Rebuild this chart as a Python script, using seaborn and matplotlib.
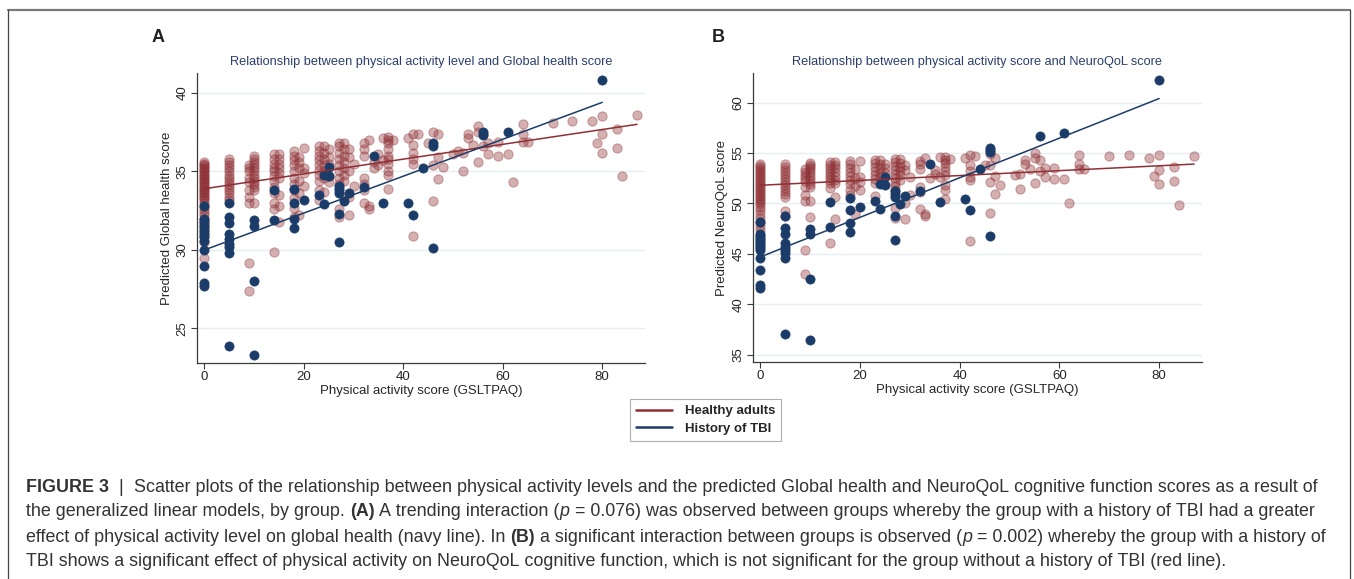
import numpy as np
import pandas as pd
import matplotlib
matplotlib.use('Agg')
import matplotlib.pyplot as plt
import matplotlib.transforms as mtrans
from matplotlib.lines import Line2D
import seaborn as sns

# ── Data ───────────────────────────────────────────────────────────────────────
# Panel A: Global health. {physical activity score: [predicted scores]}
a_healthy = {
    0: [35.6, 35.5, 35.4, 35.3, 35.2, 35.1, 35.0, 34.9, 34.8, 34.7, 34.6, 34.5, 34.4,
        34.3, 34.2, 34.1, 34.0, 33.9, 33.8, 33.7, 33.6, 33.5, 33.4, 33.3, 33.2, 33.0,
        32.8, 32.6, 32.4, 32.2, 32.0, 31.8, 31.5, 31.2, 30.9, 30.5, 29.5],
    5: [35.8, 35.6, 35.4, 35.2, 35.0, 34.8, 34.6, 34.4, 34.2, 34.0, 33.8, 33.6, 33.4, 33.2],
    9: [35.4, 35.2, 35.0, 34.6, 34.3, 33.8, 33.4, 33.0, 29.2, 27.4],
    10: [36.0, 35.8, 35.6, 35.4, 35.2, 35.0, 34.8, 34.6, 34.4, 34.2, 34.0, 33.8, 33.0],
    14: [36.1, 35.8, 35.5, 35.2, 35.0, 34.7, 34.4, 34.0, 33.6, 33.0, 32.6, 29.9],
    15: [36.1, 35.8, 35.5, 35.2, 34.9, 34.6, 33.5, 32.8, 31.8],
    18: [36.3, 36.0, 35.7, 35.4, 35.0, 34.6, 34.2, 33.8, 33.3, 32.7, 32.1],
    19: [35.9, 35.6, 35.2, 34.4, 33.6, 32.2],
    20: [36.5, 35.2, 34.9, 34.1],
    23: [36.6, 36.3, 36.0, 35.7, 35.4, 35.1, 34.8, 34.4, 33.8, 33.2],
    24: [36.6, 36.2, 35.8, 35.4, 35.0, 34.6, 33.7],
    25: [36.4, 35.9, 35.5, 34.7, 34.3],
    27: [36.8, 36.6, 36.2, 35.8, 35.4, 35.0, 34.6, 34.2, 33.8, 32.6, 32.1],
    28: [36.8, 36.4, 36.0, 35.6, 35.2, 34.8, 34.4, 33.4],
    29: [36.4, 35.9, 35.0, 33.4, 32.2],
    30: [35.5, 34.1],
    32: [36.8, 36.4, 36.0, 34.6, 34.2, 33.8, 33.0],
    33: [37.0, 32.8, 32.6],
    34: [35.6, 35.2],
    35: [36.1, 35.4],
    36: [37.1, 35.7],
    37: [37.2, 37.0, 36.8, 36.4, 36.0, 35.8, 35.5, 35.0, 34.8, 33.9],
    38: [37.0], 41: [37.1],
    42: [37.4, 36.7, 36.2, 35.8, 35.5, 30.9],
    43: [37.4], 45: [36.8],
    46: [37.5, 35.4, 33.1],
    47: [37.4, 35.9, 34.5],
    48: [35.3], 50: [36.1], 51: [36.3],
    52: [36.2, 35.0],
    53: [37.4, 37.1], 54: [36.7],
    55: [37.9, 37.5, 35.6],
    56: [37.4, 36.6],
    57: [36.8, 36.1],
    59: [36.9, 36.0],
    61: [36.1], 62: [34.3],
    64: [38.0, 37.4, 36.9],
    65: [36.9], 70: [38.1], 74: [38.2], 78: [38.2], 79: [36.8],
    80: [38.5, 37.4, 36.2],
    83: [37.7, 36.5], 84: [34.7], 87: [38.6],
}
a_tbi = {
    0: [32.8, 32.0, 31.8, 31.6, 31.4, 31.2, 31.0, 30.8, 30.6, 30.0, 29.0, 27.9, 27.7],
    5: [33.0, 32.1, 31.7, 31.0, 30.7, 30.4, 30.2, 29.8, 23.9],
    10: [31.9, 31.5, 28.0, 23.3],
    14: [33.8, 31.9],
    18: [33.9, 33.0, 32.0, 31.4],
    20: [33.2], 23: [33.5],
    24: [34.8, 32.9],
    25: [35.3, 34.7],
    27: [34.1, 33.9, 33.6, 32.3, 30.5],
    28: [33.1], 29: [33.6], 32: [34.0], 34: [36.0], 36: [33.0],
    41: [33.0], 42: [32.2], 44: [35.2],
    46: [36.8, 36.6, 30.1],
    56: [37.5, 37.3], 61: [37.5], 80: [40.8],
}
a_fit_healthy_x, a_fit_healthy_y = [0, 87], [33.9, 38.0]
a_fit_tbi_x, a_fit_tbi_y = [0, 80], [30.0, 39.4]

# Panel B: NeuroQoL
b_healthy = {
    0: [53.9, 53.7, 53.5, 53.3, 53.1, 52.9, 52.7, 52.5, 52.3, 52.1, 51.9, 51.7, 51.5,
        51.3, 51.1, 50.9, 50.7, 50.5, 50.3, 50.1, 49.9, 49.6, 49.3, 49.0, 48.6, 48.2,
        47.8, 47.4],
    5: [53.9, 53.6, 53.3, 53.0, 52.7, 52.4, 52.1, 51.8, 51.5, 51.2, 50.9, 50.6, 49.2, 48.8],
    9: [53.4, 53.1, 52.8, 52.5, 52.2, 51.6, 50.8, 50.2, 45.4, 43.0],
    10: [54.0, 53.8, 53.6, 53.4, 53.1, 52.8, 52.5, 52.2, 51.9, 51.6, 50.2, 48.7],
    14: [54.1, 53.8, 53.5, 53.2, 52.9, 52.6, 52.3, 52.0, 51.5, 46.1],
    15: [54.1, 53.8, 53.5, 53.1, 52.7, 52.3, 52.0, 50.6, 48.5],
    18: [54.2, 53.9, 53.5, 53.1, 52.7, 52.3, 51.9, 51.3, 50.8],
    19: [53.4, 52.5, 51.7, 49.0],
    20: [54.2, 52.6, 52.1, 51.3],
    23: [54.3, 54.0, 53.6, 53.2, 52.8, 52.4, 52.0, 50.7],
    24: [54.3, 53.9, 53.5, 53.0, 52.6],
    25: [53.9, 53.5, 53.0],
    27: [54.4, 54.1, 53.7, 53.3, 52.9, 52.5, 52.1, 51.7, 51.3, 49.5, 48.6],
    28: [54.4, 54.0, 53.6, 53.2, 52.8, 52.3],
    29: [53.8, 53.3, 50.0, 48.5],
    30: [52.6, 50.8],
    32: [54.2, 53.9, 53.4, 51.6, 51.1, 49.4],
    33: [54.5, 49.0, 48.8],
    34: [52.5], 35: [53.3, 52.9],
    36: [54.6, 52.6],
    37: [54.6, 54.3, 54.0, 53.6, 53.2, 52.8, 51.8, 51.3, 50.4],
    38: [54.4], 41: [54.5],
    42: [54.8, 53.8, 53.2, 52.6, 52.3, 46.3],
    43: [54.7], 45: [53.8],
    46: [54.9, 53.8, 52.1, 49.1],
    47: [54.5, 52.7, 50.9],
    48: [51.8], 51: [52.8],
    52: [52.9, 51.4],
    53: [54.3, 53.9], 54: [53.4],
    55: [55.0, 54.5, 52.0],
    56: [54.3, 53.2],
    57: [53.5, 52.6],
    59: [53.5, 52.4],
    61: [52.4], 62: [50.0],
    64: [54.8, 53.9, 53.4],
    65: [53.4], 70: [54.7], 74: [54.8], 78: [54.5], 79: [52.7],
    80: [54.8, 53.3, 51.9],
    83: [53.6, 52.2], 84: [49.8], 87: [54.7],
}
b_tbi = {
    0: [48.2, 47.0, 46.8, 46.6, 46.4, 46.2, 46.0, 45.8, 45.6, 45.4, 44.6, 43.4, 41.9, 41.6],
    5: [48.8, 47.6, 47.0, 46.1, 45.7, 45.4, 45.1, 44.6, 37.1],
    10: [47.5, 47.0, 42.5, 36.5],
    14: [50.1, 47.7],
    18: [50.5, 49.3, 48.1, 47.2],
    20: [49.6], 23: [50.2],
    24: [51.9, 49.4],
    25: [52.6, 51.8],
    27: [51.2, 50.9, 50.6, 48.8, 46.4],
    28: [49.9], 29: [50.7], 32: [51.2], 34: [53.9], 36: [50.1],
    41: [50.4], 42: [49.3], 44: [53.4],
    46: [55.5, 55.3, 55.1, 46.8],
    56: [56.7], 61: [57.0], 80: [62.2],
}
b_fit_healthy_x, b_fit_healthy_y = [0, 87], [51.8, 53.9]
b_fit_tbi_x, b_fit_tbi_y = [0, 80], [44.7, 60.4]

GROUPS = ['Healthy adults', 'History of TBI']
RED, NAVY = '#8e3034', '#1b3c69'
TITLE_C = '#2a3f6e'
FONT = 'Liberation Sans'


def to_frame(cols, group):
    rows = [(x, y) for x, ys in cols.items() for y in ys]
    df = pd.DataFrame(rows, columns=['pa', 'score'])
    df['group'] = group
    return df


# ── Plot ───────────────────────────────────────────────────────────────────────
sns.set_style('white')
plt.rcParams['font.family'] = [FONT, 'DejaVu Sans']

W, H, DPI = 1354, 579, 100
fig = plt.figure(figsize=(W / DPI, H / DPI), dpi=DPI)


def px_axes(x0, y0, x1, y1):
    return fig.add_axes([x0 / W, 1 - y1 / H, (x1 - x0) / W, (y1 - y0) / H])


panels = [
    dict(box=(197, 73, 645, 363), healthy=a_healthy, tbi=a_tbi,
         fh=(a_fit_healthy_x, a_fit_healthy_y), ft=(a_fit_tbi_x, a_fit_tbi_y),
         xlim=(-1.5, 88.6), ylim=(22.8, 41.27), yticks=[25, 30, 35, 40],
         ylabel='Predicted Global health score',
         title='Relationship between physical activity level and Global health score',
         letter='A', letter_xy=(158, 38)),
    dict(box=(753, 73, 1202, 362), healthy=b_healthy, tbi=b_tbi,
         fh=(b_fit_healthy_x, b_fit_healthy_y), ft=(b_fit_tbi_x, b_fit_tbi_y),
         xlim=(-1.5, 88.6), ylim=(34.28, 62.93), yticks=[35, 40, 45, 50, 55, 60],
         ylabel='Predicted NeuroQoL score',
         title='Relationship between physical activity score and NeuroQoL score',
         letter='B', letter_xy=(718, 38)),
]

for p in panels:
    ax = px_axes(*p['box'])
    dh = to_frame(p['healthy'], GROUPS[0])
    dt = to_frame(p['tbi'], GROUPS[1])
    sns.scatterplot(data=dh, x='pa', y='score', color=RED, alpha=0.38, s=44,
                    edgecolor=RED, linewidth=0.8, ax=ax, zorder=3, legend=False)
    sns.scatterplot(data=dt, x='pa', y='score', color=NAVY, s=44,
                    edgecolor=NAVY, linewidth=0.5, ax=ax, zorder=4, legend=False)
    fits = pd.concat([
        pd.DataFrame({'pa': p['fh'][0], 'score': p['fh'][1], 'group': GROUPS[0]}),
        pd.DataFrame({'pa': p['ft'][0], 'score': p['ft'][1], 'group': GROUPS[1]}),
    ])
    sns.lineplot(data=fits, x='pa', y='score', hue='group', hue_order=GROUPS,
                 palette=[RED, NAVY], linewidth=1.1, ax=ax, zorder=5, legend=False)

    ax.set_xlim(*p['xlim']); ax.set_ylim(*p['ylim'])
    ax.set_xticks([0, 20, 40, 60, 80])
    ax.set_yticks(p['yticks'])
    ax.grid(axis='y', color='#e6eff0', linewidth=1.0, zorder=0)
    ax.set_axisbelow(True)
    for side in ['top', 'right']:
        ax.spines[side].set_visible(False)
    for side in ['left', 'bottom']:
        ax.spines[side].set_color('#3a3a3a')
        ax.spines[side].set_linewidth(0.9)
    ax.tick_params(axis='both', length=4, width=0.8, color='#3a3a3a',
                   labelsize=9.5, pad=2, direction='out', bottom=True, left=True)
    for lbl in ax.get_yticklabels():
        lbl.set_rotation(90); lbl.set_va('center')
    ax.set_xlabel('Physical activity score (GSLTPAQ)', fontsize=9.5, labelpad=1)
    ax.set_ylabel(p['ylabel'], fontsize=9.5, labelpad=3)
    ax.set_title(p['title'], fontsize=9.2, color=TITLE_C, pad=6)
    fig.text(p['letter_xy'][0] / W, 1 - p['letter_xy'][1] / H, p['letter'],
             fontsize=13, fontweight='bold', ha='center', va='center', color='#222222')

# legend
handles = [Line2D([], [], color=RED, linewidth=1.8),
           Line2D([], [], color=NAVY, linewidth=1.8)]
leg = fig.legend(handles, GROUPS, loc='upper left',
                 bbox_to_anchor=(630 / W, 1 - 399 / H), frameon=True, fancybox=False,
                 edgecolor='#9a9a9a', prop={'weight': 'bold', 'size': 9.5},
                 handlelength=2.7, handletextpad=1.0, borderpad=0.45, labelspacing=0.4,
                 borderaxespad=0)
leg.get_frame().set_linewidth(0.8)

# frame around figure
fig.add_artist(Line2D([8 / W, 1350 / W], [1 - 10 / H, 1 - 10 / H], color='#7a7a7a', lw=1.6,
                      transform=fig.transFigure))
fig.add_artist(Line2D([8 / W, 8 / W], [1 - 10 / H, 0], color='#444444', lw=0.9,
                      transform=fig.transFigure))
fig.add_artist(Line2D([1350 / W, 1350 / W], [1 - 10 / H, 0], color='#444444', lw=0.9,
                      transform=fig.transFigure))

# caption, drawn piecewise in pixel coords
caption = [
    [('FIGURE 3', 'bold', 'normal'), ('  |  ', 'normal', 'normal'),
     ('Scatter plots of the relationship between physical activity levels and the predicted '
      'Global health and NeuroQoL cognitive function scores as a result of', 'normal', 'normal')],
    [('the generalized linear models, by group. ', 'normal', 'normal'), ('(A)', 'bold', 'normal'),
     (' A trending interaction (', 'normal', 'normal'), ('p', 'normal', 'italic'),
     (' = 0.076) was observed between groups whereby the group with a history of TBI had a greater',
      'normal', 'normal')],
    [('effect of physical activity level on global health (navy line). In ', 'normal', 'normal'),
     ('(B)', 'bold', 'normal'),
     (' a significant interaction between groups is observed (', 'normal', 'normal'),
     ('p', 'normal', 'italic'),
     (' = 0.002) whereby the group with a history of', 'normal', 'normal')],
    [('TBI shows a significant effect of physical activity on NeuroQoL cognitive function, '
      'which is not significant for the group without a history of TBI (red line).',
      'normal', 'normal')],
]
line_y = [487, 512, 537, 561]
ident = mtrans.IdentityTransform()
renderer = fig.canvas.get_renderer()


def line_width(segs, size):
    total = 0
    for text, weight, style in segs:
        t = fig.text(0, 0, text.replace(' ', '\u00a0'), fontsize=size,
                     fontweight=weight, fontstyle=style)
        total += t.get_window_extent(renderer).width
        t.remove()
    return total


# size the caption so its first line spans the same width as in the figure
cap_size = 11.6 * (1288 / line_width(caption[0], 11.6))
for segs, yy in zip(caption, line_y):
    x = 26
    for text, weight, style in segs:
        t = fig.text(x, H - yy, text.replace(' ', '\u00a0'), transform=ident, fontsize=cap_size,
                     fontweight=weight, fontstyle=style, color='#333333',
                     ha='left', va='center')
        x += t.get_window_extent(renderer).width

fig.savefig('out.png', dpi=DPI)
